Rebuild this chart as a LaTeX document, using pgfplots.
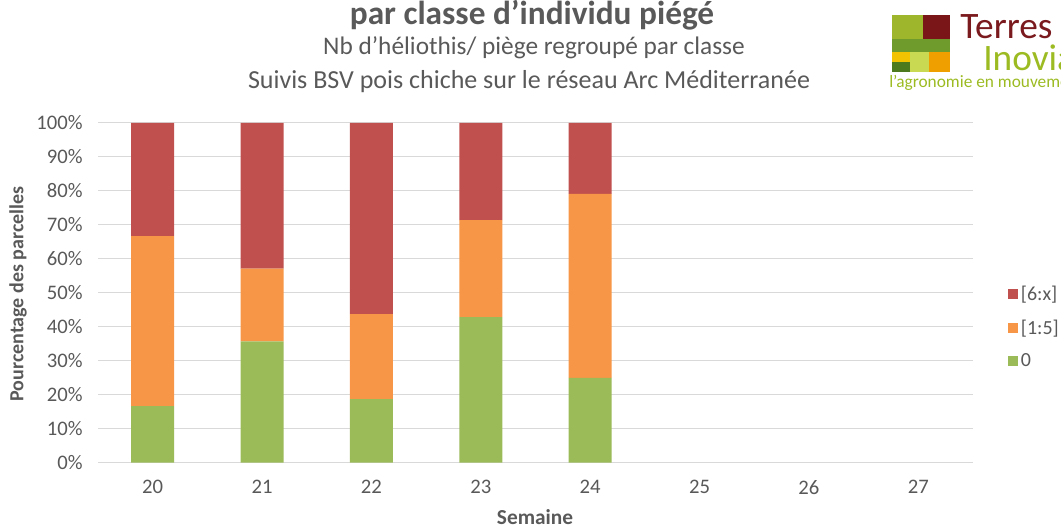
\documentclass[border=0pt]{standalone}
\usepackage{pgfplots}
\pgfplotsset{compat=1.18}
\usepackage{pgfplotstable}
\usepackage{fontspec}
\setmainfont{Carlito}
\definecolor{txt}{HTML}{595959}
\definecolor{grd}{HTML}{D9D9D9}
\definecolor{cred}{HTML}{C0504D}
\definecolor{corg}{HTML}{F79646}
\definecolor{cgrn}{HTML}{9BBB59}
\definecolor{lgA}{HTML}{9DB62C}
\definecolor{lgB}{HTML}{7A1518}
\definecolor{lgC}{HTML}{6F9A2C}
\definecolor{lgD}{HTML}{F2C300}
\definecolor{lgE}{HTML}{C9D952}
\definecolor{lgF}{HTML}{EFA000}
\definecolor{lgG}{HTML}{4C7A1D}
\definecolor{lgT}{HTML}{7A1A1E}
\definecolor{lgI}{HTML}{9CBB22}
\pgfplotstableread{
x g o r
20 16.67 50.00 33.33
21 35.71 21.43 42.86
22 18.75 25.00 56.25
23 42.86 28.57 28.57
24 25.00 54.17 20.83
}\data
\newcommand{\PX}[2]{({0.75*#1pt},{0.75*(525-#2)*1pt})}
\begin{document}
\begin{tikzpicture}
\useasboundingbox (0,0) rectangle (795.75pt,393.75pt);
\begin{scope}
\clip (0,0) rectangle (795.75pt,393.75pt);
% titles
\node[text=txt,font=\fontsize{25pt}{28pt}\selectfont\bfseries] at \PX{532}{15} {par classe d'individu piégé};
\node[text=txt,font=\fontsize{19pt}{22pt}\selectfont] at \PX{534}{48} {Nb d'héliothis/ piège regroupé par classe};
\node[text=txt,font=\fontsize{19.5pt}{22pt}\selectfont] at \PX{529}{82} {Suivis BSV pois chiche sur le réseau Arc Méditerranée};
% logo
\fill[lgA] \PX{892}{15} rectangle \PX{923}{39};
\fill[lgB] \PX{923}{15} rectangle \PX{950}{39};
\fill[lgC] \PX{892}{39} rectangle \PX{950}{52};
\fill[lgD] \PX{892}{52} rectangle \PX{910}{62};
\fill[lgG] \PX{892}{62} rectangle \PX{910}{72};
\fill[lgE] \PX{910}{52} rectangle \PX{929}{72};
\fill[lgF] \PX{929}{52} rectangle \PX{950}{72};
\node[anchor=base west,inner sep=0,text=lgT,text height=0.64em,text depth=0pt,font=\fontsize{28pt}{30pt}\selectfont] at \PX{960}{39} {Terres};
\node[anchor=base west,inner sep=0,text=lgI,text height=0.64em,text depth=0pt,font=\fontsize{28pt}{30pt}\selectfont] at \PX{983}{71} {Inovia};
\node[anchor=base west,inner sep=0,text=lgI,text height=0.6em,text depth=0pt,font=\fontsize{13pt}{14pt}\selectfont] at \PX{889}{88} {l'agronomie en mouvement};
% axis titles
\node[text=txt,font=\fontsize{16pt}{18pt}\selectfont\bfseries] at \PX{535}{517} {Semaine};
\node[text=txt,font=\fontsize{15pt}{18pt}\selectfont\bfseries,rotate=90] at \PX{18}{294} {Pourcentage des parcelles};
\end{scope}
\begin{axis}[
  at={(73.5pt,46.725pt)}, anchor=origin,
  scale only axis, width=656.25pt, height=254.775pt,
  ybar stacked, bar width=32.25pt,
  xmin=19.5, xmax=27.5, ymin=0, ymax=100,
  xtick={20,...,27}, ytick={0,10,...,100},
  yticklabel={\pgfmathprintnumber{\tick}\%},
  /pgf/number format/assume math mode=true,
  ticklabel style={font=\fontsize{15.5pt}{18pt}\selectfont, text=txt},
  major tick length=0pt,
  ymajorgrids, grid style={grd, line width=0.75pt},
  axis x line*=bottom, axis y line*=left,
  x axis line style={grd, line width=0.75pt, -},
  y axis line style={draw=none},
  xticklabel style={yshift=-9.5pt},
  yticklabel style={xshift=-8pt},
  legend style={draw=none, fill=none, at={(1.04,0.529)}, anchor=north west,
    font=\fontsize{15pt}{18pt}\selectfont, text=txt, row sep=9pt,
    inner sep=0pt},
  legend cell align=left,
  reverse legend,
  legend image code/.code={\fill[#1] (0pt,-3.75pt) rectangle (7.5pt,3.75pt);},
]
\addplot[fill=cgrn, draw=none] table[x=x,y=g] {\data};
\addplot[fill=corg, draw=none] table[x=x,y=o] {\data};
\addplot[fill=cred, draw=none] table[x=x,y=r] {\data};
\legend{0,{{}[1:5]},{{}[6:x]}}
\end{axis}
\end{tikzpicture}
\end{document}
